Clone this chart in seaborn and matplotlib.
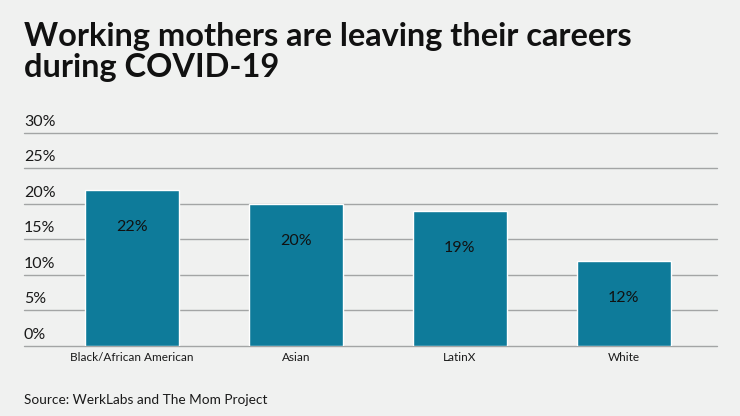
import seaborn as sns
import matplotlib.pyplot as plt
import matplotlib.transforms as mtransforms
import pandas as pd

# data
groups = ["Black/African American", "Asian", "LatinX", "White"]
shares = [22, 20, 19, 12]
y_ticks = [0, 5, 10, 15, 20, 25, 30]
y_tick_labels = ["0%", "5%", "10%", "15%", "20%", "25%", "30%"]

title_lines = ["Working mothers are leaving their careers", "during COVID-19"]
source = "Source: WerkLabs and The Mom Project"

bg = "#f0f1f0"
bar_color = "#0e7b9a"
grid_color = "#a3a5a5"

sns.set_theme(style="white")
plt.rcParams["font.family"] = ["Lato", "DejaVu Sans"]

df = pd.DataFrame({"group": groups, "share": shares})

fig = plt.figure(figsize=(7.4, 4.16), dpi=100, facecolor=bg)
ax = fig.add_axes([0.0324, 0.1683, 0.936, 0.512])
ax.set_facecolor(bg)

sns.barplot(data=df, x="group", y="share", order=groups, color=bar_color,
            saturation=1, width=0.573, ax=ax, zorder=3)

ax.set_xlim(-0.659, 3.567)
ax.set_ylim(0, 30)
for s in ax.spines.values():
    s.set_visible(False)

# horizontal rules
for v in y_ticks:
    ax.axhline(v, color=grid_color, lw=1, zorder=1, clip_on=False)

# y labels sit on top of their rules, left aligned
trans = mtransforms.blended_transform_factory(ax.transAxes, ax.transData)
off = mtransforms.offset_copy(trans, fig=fig, x=0, y=4, units="dots")
for v, lab in zip(y_ticks, y_tick_labels):
    ax.text(0, v, lab, transform=off, ha="left", va="bottom",
            fontsize=11.5, color="#1a1a1a")
ax.set_yticks([])

ax.set_xlabel("")
ax.set_ylabel("")
ax.tick_params(axis="x", length=0, pad=4, labelsize=8.5, labelcolor="#1a1a1a")

# value labels inside bars
for i, v in enumerate(shares):
    ax.annotate(f"{v}%", (i, v), xytext=(0, -26.5), textcoords="offset points",
                ha="center", va="center", fontsize=11.5, color="#111111", zorder=4)

# title, one text per line (baselines at 46px and 77px from the top)
for line, yb in zip(title_lines, [46, 77]):
    fig.text(0.0324, 1 - yb / 416, line, fontsize=23.4, fontweight="bold",
             color="#111111", ha="left", va="baseline")
fig.text(0.0324, 1 - 404 / 416, source, fontsize=9.8, color="#1a1a1a",
         ha="left", va="baseline")

plt.savefig("out.png", dpi=100, facecolor=bg)
